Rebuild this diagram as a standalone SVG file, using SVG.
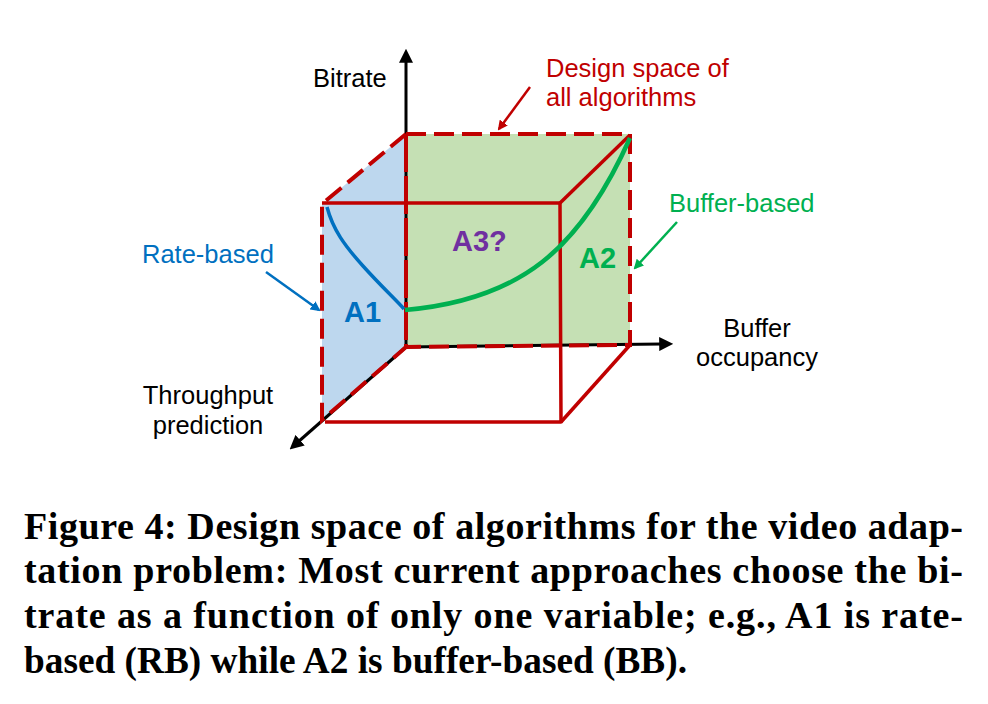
<svg xmlns="http://www.w3.org/2000/svg" width="988" height="704" viewBox="0 0 988 704">
<style>
.lbl{font-family:"Liberation Sans",Arial,sans-serif;font-size:25.5px}
.big{font-family:"Liberation Sans",Arial,sans-serif;font-size:29px;font-weight:bold}
.cap{font-family:"Liberation Serif","Times New Roman",serif;font-size:38px;font-weight:bold;fill:#000}
.axis{stroke:#000;stroke-width:3;fill:none}
.dash{stroke:#C00000;stroke-width:4;fill:none;stroke-dasharray:20 8}
.solid{stroke:#C00000;stroke-width:3.5;fill:none;stroke-linejoin:round}
</style>
<defs>
<marker id="ah" viewBox="0 0 10 10" refX="2" refY="5" markerWidth="14" markerHeight="14" markerUnits="userSpaceOnUse" orient="auto"><path d="M0,0 L10,5 L0,10 Z" fill="#000"/></marker>
<marker id="ahr" viewBox="0 0 10 10" refX="8" refY="5" markerWidth="10" markerHeight="10" markerUnits="userSpaceOnUse" orient="auto"><path d="M0,0 L10,5 L0,10 Z" fill="#C00000"/></marker>
<marker id="ahb" viewBox="0 0 10 10" refX="8" refY="5" markerWidth="10" markerHeight="10" markerUnits="userSpaceOnUse" orient="auto"><path d="M0,0 L10,5 L0,10 Z" fill="#0070C0"/></marker>
<marker id="ahg" viewBox="0 0 10 10" refX="8" refY="5" markerWidth="10" markerHeight="10" markerUnits="userSpaceOnUse" orient="auto"><path d="M0,0 L10,5 L0,10 Z" fill="#00B050"/></marker>
</defs>

<g id="rate-plane">
<polygon points="406,134 322,204 322,420 406,347" fill="#BDD7EE"/>
</g>
<g id="buffer-plane">
<polygon points="406,134 630,134 630,345 406,347" fill="#C5E0B4"/>
</g>

<g id="axes">
<line class="axis" x1="406" y1="347" x2="406" y2="60" marker-end="url(#ah)"/>
<line class="axis" x1="406" y1="347" x2="662" y2="344" marker-end="url(#ah)"/>
<line class="axis" x1="406" y1="347" x2="298" y2="442" marker-end="url(#ah)"/>
</g>

<g id="design-space">
<path class="dash" d="M406,134 L630,134 L630,345 L406,347"/>
<path class="dash" d="M406,134 L406,347" style="stroke-dasharray:38 4"/>
<path class="dash" d="M406,134 L322,204 L322,420 L406,347"/>
</g>

<g id="cube">
<path class="solid" d="M322,203 L560,203 L561,422 L325,422"/>
<path class="solid" d="M560,203 L630,135"/>
<path class="solid" d="M561,422 L630,345"/>
</g>

<g id="curves">
<path d="M327,207 C333,230 345,246 363,266 S396,300 404,309" fill="none" stroke="#0070C0" stroke-width="3.5"/>
<path d="M405,310 C520,300 580,250 630,138" fill="none" stroke="#00B050" stroke-width="4.5"/>
</g>

<g id="connectors">
<line x1="530" y1="87" x2="499" y2="129" stroke="#C00000" stroke-width="2.5" marker-end="url(#ahr)"/>
<line x1="266" y1="272" x2="319" y2="310" stroke="#0070C0" stroke-width="2.5" marker-end="url(#ahb)"/>
<line x1="677" y1="222" x2="635" y2="268" stroke="#00B050" stroke-width="2.5" marker-end="url(#ahg)"/>
</g>

<g id="labels">
<text class="lbl" x="313" y="87" fill="#000">Bitrate</text>
<text class="lbl" x="546" y="77" fill="#C00000">Design space of</text>
<text class="lbl" x="546" y="106" fill="#C00000">all algorithms</text>
<text class="lbl" x="669" y="212" fill="#00B050">Buffer-based</text>
<text class="lbl" x="142" y="263" fill="#0070C0">Rate-based</text>
<text class="lbl" x="757" y="337" fill="#000" text-anchor="middle">Buffer</text>
<text class="lbl" x="757" y="366" fill="#000" text-anchor="middle">occupancy</text>
<text class="lbl" x="208" y="404" fill="#000" text-anchor="middle">Throughput</text>
<text class="lbl" x="208" y="434" fill="#000" text-anchor="middle">prediction</text>
<text class="big" x="344" y="322" fill="#0070C0">A1</text>
<text class="big" x="452" y="251" fill="#7030A0">A3?</text>
<text class="big" x="579" y="268" fill="#00B050">A2</text>
</g>

<g id="caption">
<text class="cap" x="24" y="539" textLength="939" lengthAdjust="spacing">Figure 4: Design space of algorithms for the video adap-</text>
<text class="cap" x="24" y="583" textLength="939" lengthAdjust="spacing">tation problem: Most current approaches choose the bi-</text>
<text class="cap" x="24" y="628" textLength="939" lengthAdjust="spacing">trate as a function of only one variable; e.g., A1 is rate-</text>
<text class="cap" x="24" y="673" textLength="663" lengthAdjust="spacingAndGlyphs">based (RB) while A2 is buffer-based (BB).</text>
</g>
</svg>
